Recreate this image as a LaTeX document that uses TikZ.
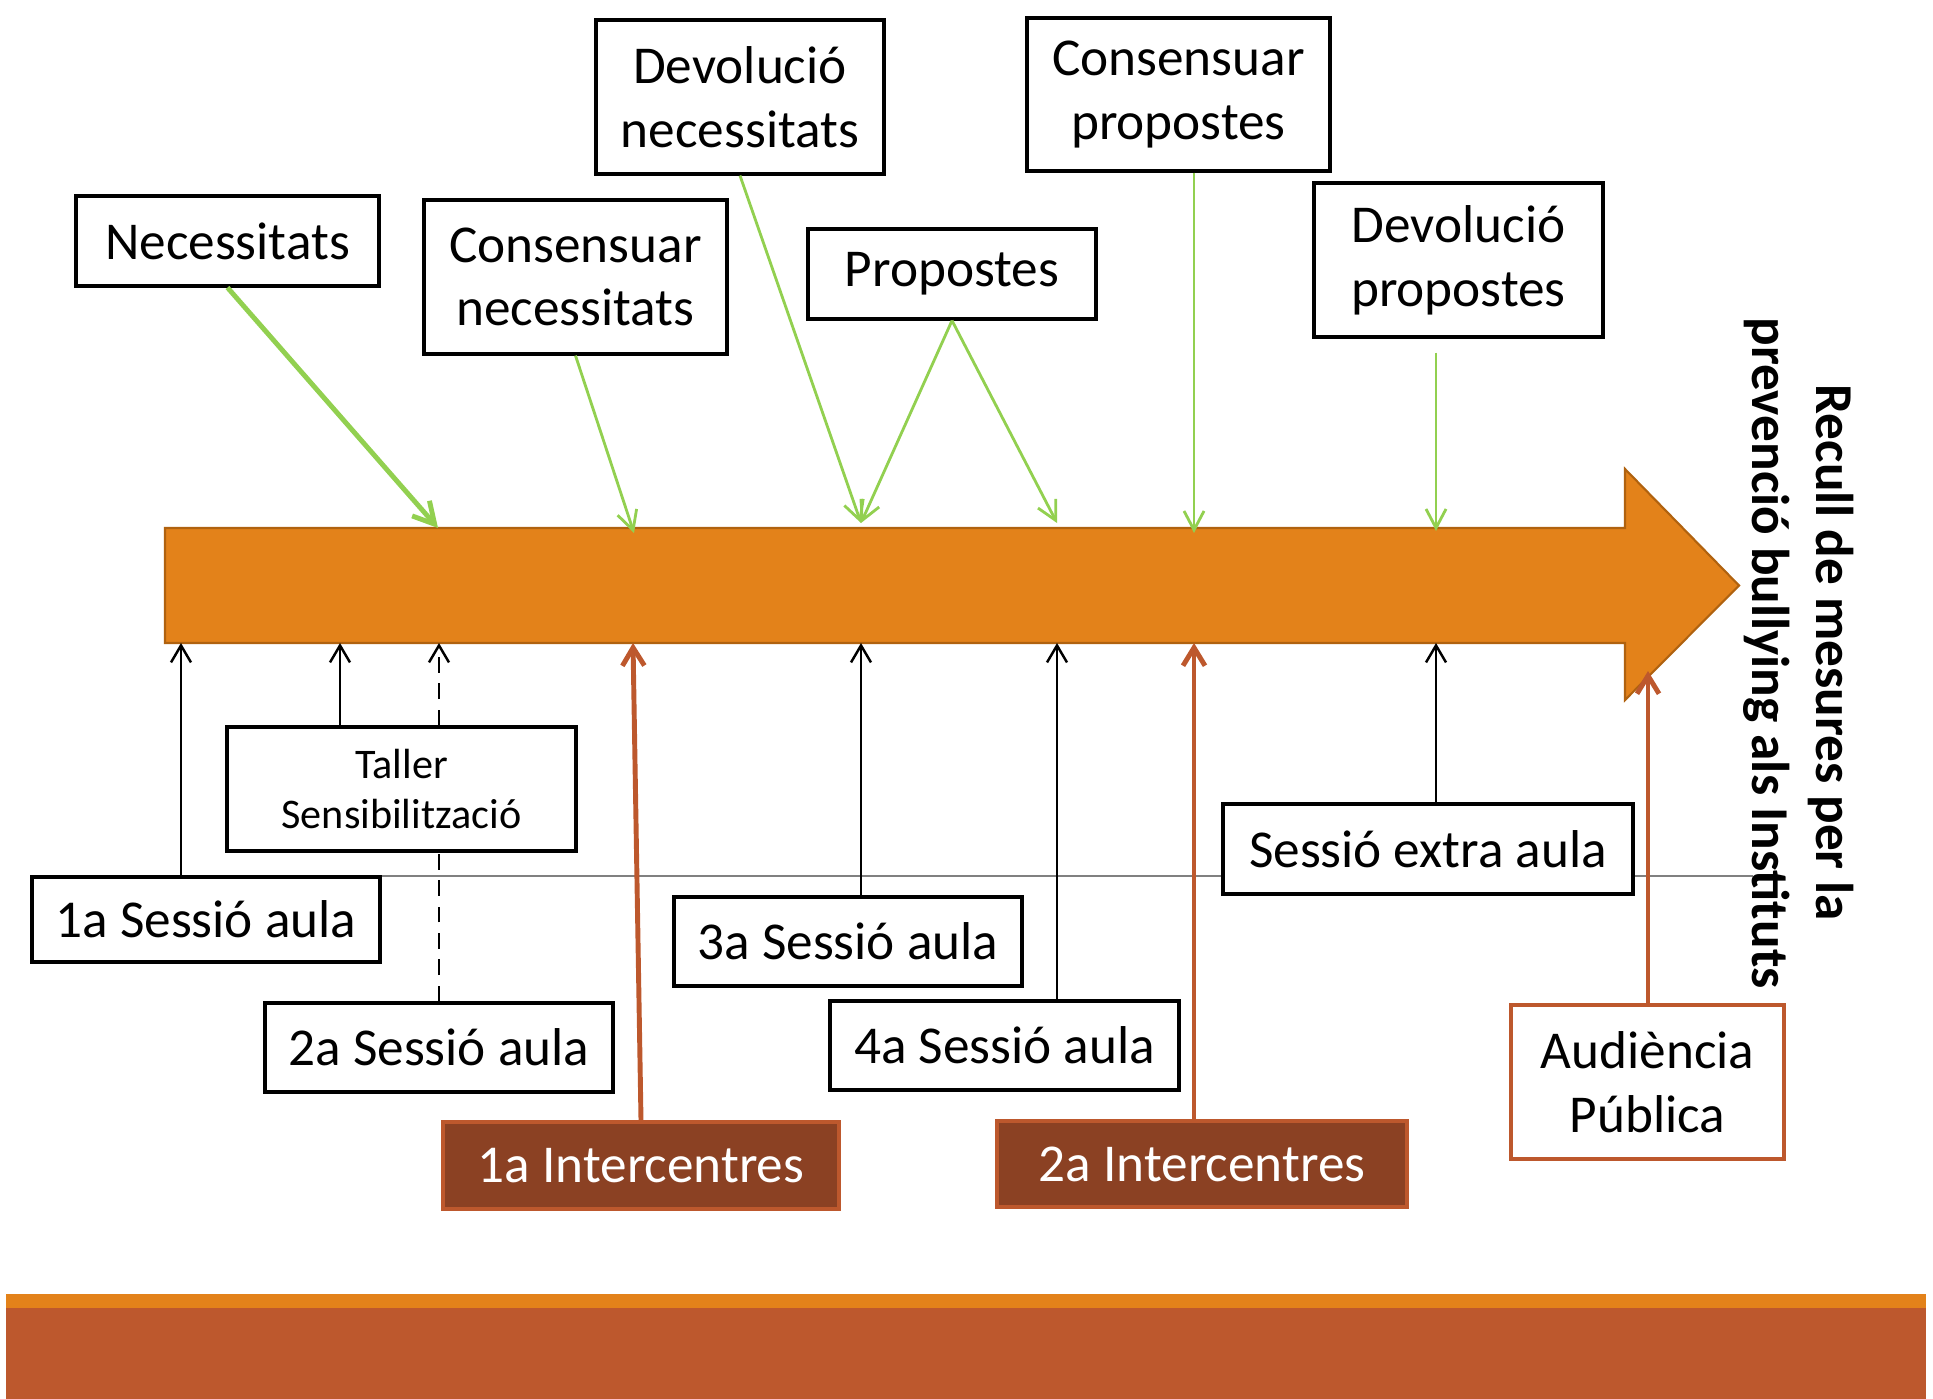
\documentclass[tikz,border=0pt]{standalone}
\usepackage{fontspec}
\setmainfont{Carlito}
\usetikzlibrary{arrows.meta}
\definecolor{bandorange}{HTML}{E3821A}
\definecolor{rust}{HTML}{BD582D}
\definecolor{darkrust}{HTML}{8B4123}
\definecolor{arrowedge}{HTML}{B0620F}
\definecolor{leafgreen}{HTML}{92D050}
\begin{document}
\begin{tikzpicture}
		\tikzstyle{txtbox} = [rectangle,draw=black,line width=1.8pt,fill=white,align=center,inner sep=0pt,font=\fontsize{30.3}{36.3}\selectfont]
		\tikzstyle{smallbox} = [txtbox,font=\fontsize{24}{28.3}\selectfont]
		\tikzstyle{meetbox} = [txtbox,draw=rust,fill=darkrust,text=white,line width=2pt]
		\tikzstyle{pubbox} = [txtbox,draw=rust,line width=2pt]
		\tikzstyle{feed} = [draw=leafgreen,line width=1.6pt,-{Straight Barb[length=0.38cm,width=0.4cm]}]
		\tikzstyle{feedbold} = [feed,line width=2.8pt,-{Straight Barb[length=0.42cm,width=0.46cm]}]
		\tikzstyle{input} = [draw=black,line width=1.4pt,-{Straight Barb[length=0.34cm,width=0.4cm]}]
		\tikzstyle{meet} = [draw=rust,line width=2.8pt,-{Straight Barb[length=0.36cm,width=0.44cm]}]
		\useasboundingbox (0,0) rectangle (38.66,-27.98);

		\fill[bandorange] (0.12,-25.88) rectangle (38.52,-26.16);
		\fill[rust] (0.12,-26.16) rectangle (38.52,-27.98);

		\draw[fill=bandorange,draw=arrowedge,line width=1.2pt] (3.3,-10.56) -- (32.5,-10.56) -- (32.5,-9.38) -- (34.78,-11.71) -- (32.5,-14.0) -- (32.5,-12.86) -- (3.3,-12.86) -- cycle;
		\draw[gray,line width=1.1pt] (3.96,-17.52) -- (35.06,-17.52);

		\coordinate (n1) at (8.76,-10.56);
		\coordinate (n2) at (12.68,-10.66);
		\coordinate (n3) at (17.22,-10.46);
		\coordinate (n4) at (21.14,-10.46);
		\coordinate (n5) at (23.88,-10.66);
		\coordinate (n6) at (28.72,-10.62);
		\coordinate (b1) at (3.62,-12.86);
		\coordinate (b2) at (6.8,-12.86);
		\coordinate (b3) at (8.78,-12.86);
		\coordinate (b4) at (12.66,-12.86);
		\coordinate (b5) at (17.22,-12.86);
		\coordinate (b6) at (21.14,-12.86);
		\coordinate (b7) at (23.88,-12.86);
		\coordinate (b8) at (28.72,-12.86);
		\coordinate (b9) at (32.96,-13.42);

		\node[txtbox,minimum width=6.06cm,minimum height=1.8cm] (nec) at (4.55,-4.82) {Necessitats};
		\node[txtbox,minimum width=6.06cm,minimum height=3.08cm] (connec) at (11.51,-5.54) {Consensuar\\necessitats};
		\node[txtbox,minimum width=5.76cm,minimum height=3.08cm] (devnec) at (14.8,-1.94) {Devolució\\necessitats};
		\node[txtbox,minimum width=5.76cm,minimum height=1.8cm] (prop) at (19.04,-5.48) {Propostes};
		\node[txtbox,minimum width=6.06cm,minimum height=3.06cm] (conprop) at (23.57,-1.89) {Consensuar\\propostes};
		\node[txtbox,minimum width=5.78cm,minimum height=3.08cm] (devprop) at (29.17,-5.2) {Devolució\\propostes};

		\node[smallbox,minimum width=6.98cm,minimum height=2.48cm] (taller) at (8.03,-15.78) {Taller\\Sensibilització};
		\node[txtbox,minimum width=6.96cm,minimum height=1.7cm] (s1) at (4.12,-18.39) {1a Sessió aula};
		\node[txtbox,minimum width=6.96cm,minimum height=1.78cm] (s2) at (8.78,-20.95) {2a Sessió aula};
		\node[txtbox,minimum width=6.96cm,minimum height=1.78cm] (s3) at (16.96,-18.83) {3a Sessió aula};
		\node[txtbox,minimum width=6.98cm,minimum height=1.78cm] (s4) at (20.09,-20.91) {4a Sessió aula};
		\node[txtbox,minimum width=8.2cm,minimum height=1.8cm] (sx) at (28.56,-16.98) {Sessió extra aula};
		\node[meetbox,minimum width=7.92cm,minimum height=1.74cm] (ic1) at (12.82,-23.31) {1a Intercentres};
		\node[meetbox,minimum width=8.2cm,minimum height=1.72cm] (ic2) at (24.04,-23.28) {2a Intercentres};
		\node[pubbox,minimum width=5.46cm,minimum height=3.08cm] (aud) at (32.95,-21.64) {Audiència\\Pública};

		\node[rotate=-90,align=center,font=\fontsize{30.3}{36.3}\selectfont\bfseries] (title) at (35.98,-13.06) {Recull de mesures per la\\prevenció bullying als Instituts};

		\draw[feedbold] (nec.south) -- (n1);
		\draw[feed] (connec.south) -- (n2);
		\draw[feed] (devnec.south) -- (n3);
		\draw[feed] (prop.south) -- (n3);
		\draw[feed] (prop.south) -- (n4);
		\draw[feed] (conprop.south -| n5) -- (n5);
		\draw[feed] (devprop.south -| n6) ++(0,-0.28) -- (n6);

		\draw[input] (s1.north -| b1) -- (b1);
		\draw[input] (taller.north -| b2) -- (b2);
		\draw[black,line width=1.4pt,dash pattern=on 9pt off 6pt] (s2.north) -- (taller.south -| s2.north);
		\draw[input,dash pattern=on 9pt off 6pt] (taller.north -| b3) -- (b3);
		\draw[input] (s3.north -| b5) -- (b5);
		\draw[input] (s4.north -| b6) -- (b6);
		\draw[input] (sx.north -| b8) -- (b8);

		\draw[meet] (ic1.north) -- (b4);
		\draw[meet] (ic2.north -| b7) -- (b7);
		\draw[meet] (aud.north -| b9) -- (b9);
	\end{tikzpicture}
\end{document}
